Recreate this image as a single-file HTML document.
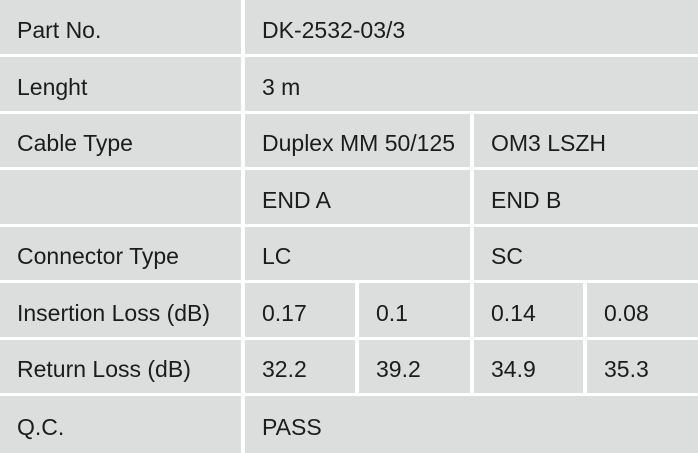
<!DOCTYPE html>
<html><head><style>
body{margin:0;background:#fff;width:698px;height:453px;position:relative;overflow:hidden;font-family:"Liberation Sans",sans-serif;}
.c{position:absolute;background:#dcdddd;color:#1c1c1c;font-size:23px;box-sizing:border-box;padding-left:17px;padding-top:6px;display:flex;align-items:center;}
</style></head><body>
<div id="t"></div>
<script>
const rows=[[0,54],[57,111],[114,167],[170,224],[227,280],[283,337],[340,393],[396,453]];
const X={a:[0,241],b:[245,698],b1:[245,470],b2:[474,698],c1:[245,355],c2:[359,470],c3:[474,583],c4:[587,698]};
const data=[
[['a','Part No.'],['b','DK-2532-03/3']],
[['a','Lenght'],['b','3 m']],
[['a','Cable Type'],['b1','Duplex MM 50/125'],['b2','OM3 LSZH']],
[['a',''],['b1','END A'],['b2','END B']],
[['a','Connector Type'],['b1','LC'],['b2','SC']],
[['a','Insertion Loss (dB)'],['c1','0.17'],['c2','0.1'],['c3','0.14'],['c4','0.08']],
[['a','Return Loss (dB)'],['c1','32.2'],['c2','39.2'],['c3','34.9'],['c4','35.3']],
[['a','Q.C.'],['b','PASS']]];
let h='';
data.forEach((r,i)=>{const [y0,y1]=rows[i];r.forEach(([k,t])=>{const [x0,x1]=X[k];
h+=`<div class="c" style="left:${x0}px;top:${y0}px;width:${x1-x0}px;height:${y1-y0}px">${t}</div>`;});});
document.getElementById('t').innerHTML=h;
</script>
</body></html>
